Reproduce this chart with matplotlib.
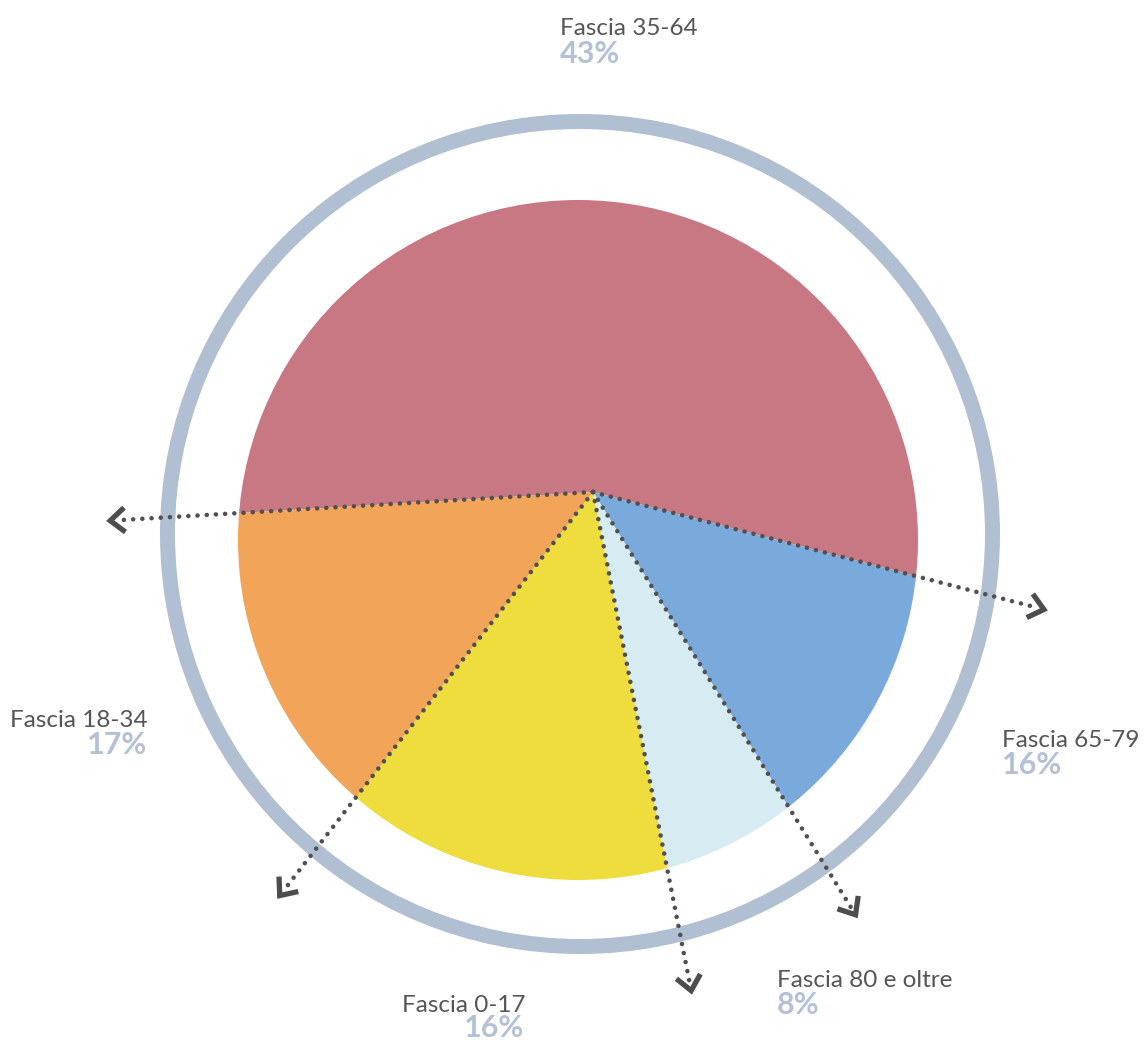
import numpy as np
import matplotlib
matplotlib.use("Agg")
import matplotlib.pyplot as plt
from matplotlib.patches import Circle

# ---- data -------------------------------------------------------------
categories = ["Fascia 35-64", "Fascia 65-79", "Fascia 80 e oltre", "Fascia 0-17", "Fascia 18-34"]
pct_labels = [43, 16, 8, 16, 17]
# angular share of each slice as drawn in the picture (percent of the turn)
slice_share = [55.0, 12.1, 5.75, 13.6, 13.55]
colors = ["#c87882", "#7aaadb", "#d6ebf2", "#eedd3c", "#f2a458"]

# ---- layout -----------------------------------------------------------
W, H = 1144, 1041
fig = plt.figure(figsize=(W / 100, H / 100), dpi=100)
ax = fig.add_axes([0, 0, 1, 1])

apex = (593, 492)
pie_c, pie_r = (578, 540), 340
ring_c, ring_r = (580, 534), 412.5
start = 176.6

wedges, _ = ax.pie(slice_share, colors=colors, startangle=start, counterclock=True,
                   center=apex, radius=700, wedgeprops=dict(linewidth=0))
ax.set_xlim(0, W)
ax.set_ylim(H, 0)
ax.set_aspect("auto")
ax.axis("off")

clip = Circle(pie_c, pie_r, transform=ax.transData)
for w in wedges:
    w.set_clip_on(True)
    w.set_clip_path(clip)

ring = Circle(ring_c, ring_r, fill=False, lw=15 * 72 / 100, color="#b1bfd3", zorder=0)
ax.add_patch(ring)

# dotted guide lines along slice boundaries with chevron heads
bounds = start + 360 * np.concatenate([[0], np.cumsum(slice_share)[:-1]]) / 100
R_end = 468
for th in bounds:
    d = np.array([np.cos(np.radians(th)), np.sin(np.radians(th))])
    p = np.array(apex) - np.array(ring_c)
    pd = p @ d
    t = -pd + np.sqrt(pd ** 2 - p @ p + R_end ** 2)
    end = np.array(apex) + t * d
    ax.plot([apex[0], end[0] - 4 * d[0]], [apex[1], end[1] - 4 * d[1]],
            color="#505050", lw=3.3, linestyle=(0, (0.01, 2.0)),
            dash_capstyle="round", zorder=5)
    L = 19
    a1 = np.radians(th + 180 + 40)
    a2 = np.radians(th + 180 - 40)
    tip = end + 2 * d
    ax.plot([tip[0] + L * np.cos(a1), tip[0], tip[0] + L * np.cos(a2)],
            [tip[1] + L * np.sin(a1), tip[1], tip[1] + L * np.sin(a2)],
            color="#4d4d4d", lw=3.8, solid_joinstyle="miter", solid_capstyle="butt", zorder=6)

# ---- labels -----------------------------------------------------------
label_pos = [(560, 35, "left"), (1002, 747, "left"), (777, 987, "left"),
             (526, 1012, "right"), (148, 727, "right")]
pct_pos = [(560, 63, "left"), (1002, 774, "left"), (777, 1014, "left"),
           (524, 1037, "right"), (147, 754, "right")]
fam = ["Lato", "DejaVu Sans"]
for cat, pc, (lx, ly, la), (px, py, pa) in zip(categories, pct_labels, label_pos, pct_pos):
    ax.text(lx, ly, cat, ha=la, va="baseline", fontsize=17.5, color="#555555",
            family=fam, zorder=8)
    ax.text(px, py, f"{pc}%", ha=pa, va="baseline", fontsize=22, color="#b3c1d6",
            fontweight="bold", family=fam, zorder=7)

fig.savefig("out.png", dpi=100)
